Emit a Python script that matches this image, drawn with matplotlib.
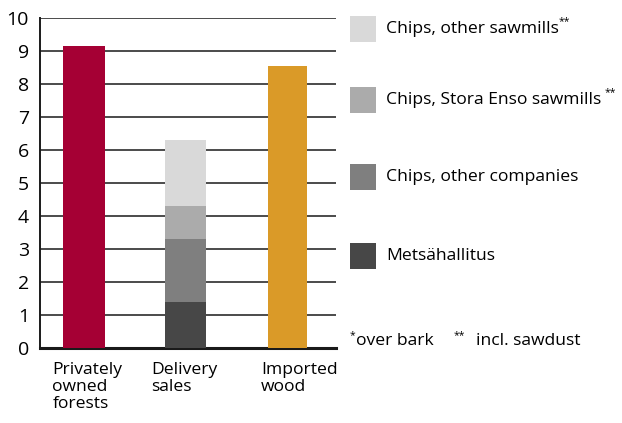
import matplotlib
matplotlib.use("Agg")
import matplotlib.pyplot as plt
from matplotlib.patches import Rectangle

# ---- data ----
categories = ["Privately\nowned\nforests", "Delivery\nsales", "Imported\nwood"]
private_value = 9.15
imported_value = 8.55
delivery_labels = ["Metsähallitus", "Chips, other companies",
                   "Chips, Stora Enso sawmills", "Chips, other sawmills"]
delivery_values = [1.4, 1.9, 1.0, 2.0]
delivery_sup = ["", "", " **", "**"]
yticks = [0, 1, 2, 3, 4, 5, 6, 7, 8, 9, 10]
footnote = ("*", "over bark", "**", "incl. sawdust")

# ---- style ----
plt.rcParams["font.family"] = ["Open Sans", "DejaVu Sans"]
col_private = "#A50034"
col_imported = "#DA9A28"
delivery_colors = ["#474747", "#7F7F7F", "#ABABAB", "#D9D9D9"]
FS = 12.6

W, H = 622, 423
fig = plt.figure(figsize=(W / 100, H / 100), dpi=100)
ax = fig.add_axes([40 / W, 1 - 348 / H, 296 / W, 330 / H])

x = [0, 1, 2]
ax.bar(x[0], private_value, width=0.41, color=col_private, zorder=3)
bottom = 0
for v, c in zip(delivery_values, delivery_colors):
    ax.bar(x[1], v, bottom=bottom, width=0.4, color=c, zorder=3)
    bottom += v
ax.bar(x[2], imported_value, width=0.38, color=col_imported, zorder=3)

ax.set_xlim(-0.433, 2.48)
ax.set_ylim(0, 10)
ax.set_yticks(yticks)
ax.set_yticklabels([str(t) for t in yticks], fontsize=14)
ax.tick_params(axis="y", length=0, pad=8)
ax.set_xticks([])
ax.yaxis.grid(True, color="#1a1a1a", linewidth=1.1, zorder=0)
ax.set_axisbelow(True)
for s in ["top", "right"]:
    ax.spines[s].set_visible(False)
ax.spines["left"].set_linewidth(1.4)
ax.spines["bottom"].set_linewidth(2.2)
ax.spines["left"].set_color("#1a1a1a")
ax.spines["bottom"].set_color("#1a1a1a")

# category labels
offsets = [-0.31, -0.34, -0.26]
for xi, lab, off in zip(x, categories, offsets):
    ax.text(xi + off, -0.42, lab, ha="left", va="top", fontsize=FS,
            linespacing=1.08, transform=ax.transData, clip_on=False)

# legend (manual)
leg_y = [29, 100, 177, 256]  # centers in px from top, for top-to-bottom order
order = [3, 2, 1, 0]
for yc, idx in zip(leg_y, order):
    fig.add_artist(Rectangle((350 / W, 1 - (yc + 13) / H), 26 / W, 26 / H,
                             transform=fig.transFigure,
                             facecolor=delivery_colors[idx], edgecolor="none"))
    t = fig.text(386 / W, 1 - yc / H, delivery_labels[idx], ha="left",
                 va="center", fontsize=FS)
    if delivery_sup[idx]:
        fig.canvas.draw()
        bb = t.get_window_extent()
        fig.text(bb.x1 / W + (3 if delivery_sup[idx].startswith(" ") else 0) / W,
                 1 - (yc - 7) / H, delivery_sup[idx].strip(),
                 ha="left", va="center", fontsize=7.5)

# footnote
fig.text(350 / W, 1 - 336 / H, footnote[0], ha="left", va="center", fontsize=7.5)
fig.text(356 / W, 1 - 341 / H, footnote[1], ha="left", va="center", fontsize=FS)
fig.text(454 / W, 1 - 336 / H, footnote[2], ha="left", va="center", fontsize=7.5)
fig.text(476 / W, 1 - 341 / H, footnote[3], ha="left", va="center", fontsize=FS)

fig.savefig("out.png", dpi=100)
